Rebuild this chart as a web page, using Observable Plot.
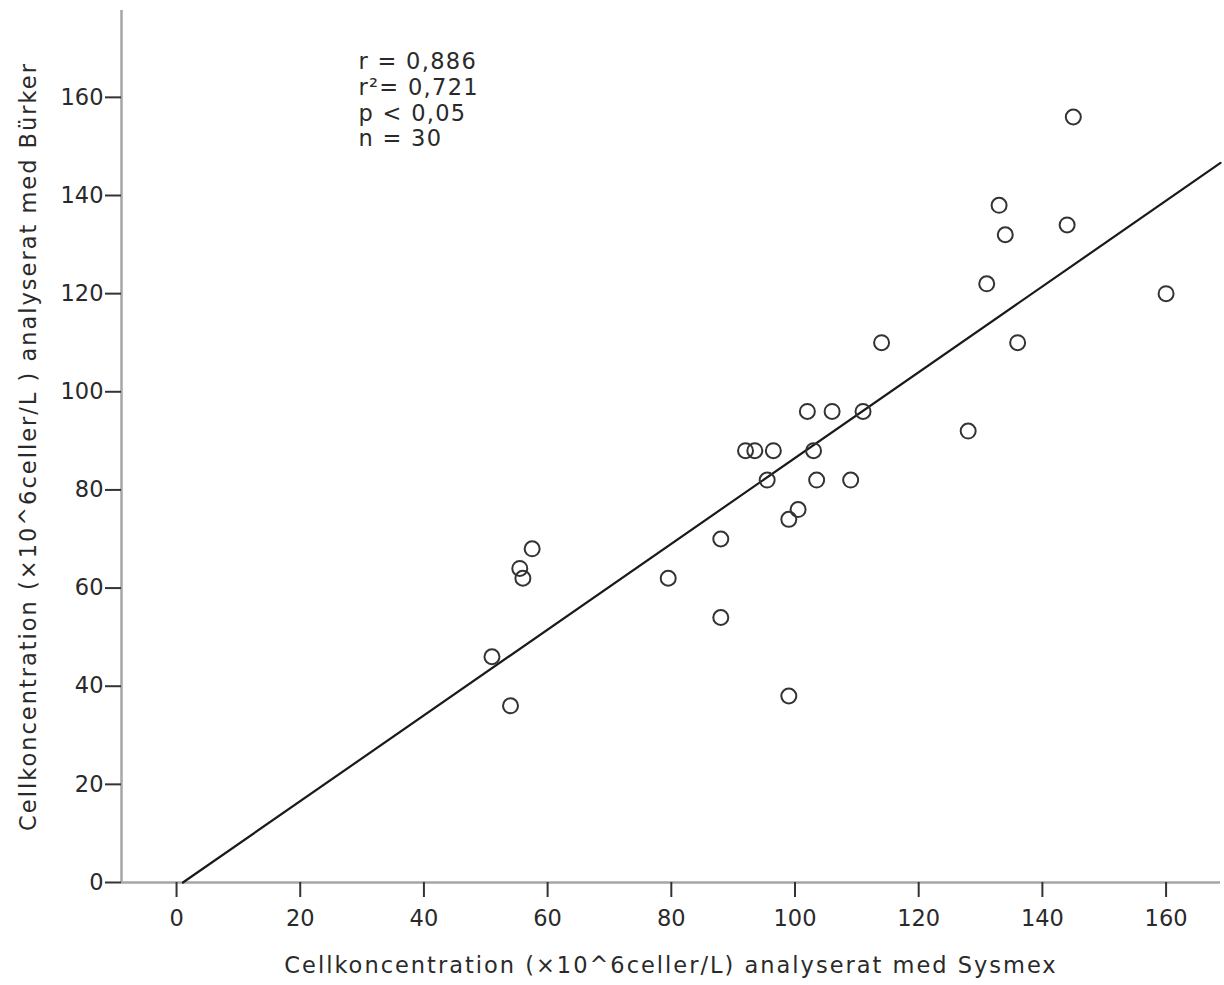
<!DOCTYPE html>
<html>
<head>
<meta charset="utf-8">
<script src="https://cdn.jsdelivr.net/npm/d3@7"></script>
<script src="https://cdn.jsdelivr.net/npm/@observablehq/plot@0.6"></script>
<style>
  html, body { margin: 0; padding: 0; background: #fff; }
  #chart svg { display: block; }
  .spaced text { letter-spacing: 2px; }
  .stats text { letter-spacing: 1.3px; }
</style>
</head>
<body>
<div id="chart"></div>
<script>
// Sysmex (x) vs Bürker (y) cell concentrations, ×10^6 cells/L
const sysmex = [145, 133, 134, 144, 131, 160, 114, 136, 102, 106, 111, 128, 92, 93.5, 96.5, 103, 95.5, 103.5, 109, 100.5, 99, 88, 79.5, 88, 99, 57.5, 55.5, 56, 51, 54];
const burker = [156, 138, 132, 134, 122, 120, 110, 110, 96, 96, 96, 92, 88, 88, 88, 88, 82, 82, 82, 76, 74, 70, 62, 54, 38, 68, 64, 62, 46, 36];

// regression line coefficients (y = intercept + slope * x)
const fitIntercept = -0.9;
const fitSlope = 0.874;

const xTicks = [0, 20, 40, 60, 80, 100, 120, 140, 160];
const yTicks = [0, 20, 40, 60, 80, 100, 120, 140, 160];
const xDomain = [-8.9, 168.8];
const yDomain = [0, 177.7];

const statLines = ["r = 0,886", "r²= 0,721", "p < 0,05", "n = 30"];
const xLabel = "Cellkoncentration (×10^6celler/L) analyserat med Sysmex";
const yLabel = "Cellkoncentration (×10^6celler/L ) analyserat med Bürker";

const points = sysmex.map((x, i) => ({x, y: burker[i]}));
const fitStart = -fitIntercept / fitSlope;
const fitLine = [fitStart, xDomain[1]].map(x => ({x, y: fitIntercept + fitSlope * x}));

const textColor = "#2a2a2a";
const font = "DejaVu Sans, Verdana, sans-serif";

const chart = Plot.plot({
  width: 1224,
  height: 985,
  marginLeft: 121,
  marginTop: 10,
  marginRight: 4,
  marginBottom: 103,
  style: {fontFamily: font, fontSize: "22.5px", color: textColor, background: "#fff"},
  x: {domain: xDomain, axis: null},
  y: {domain: yDomain, axis: null},
  marks: [
    Plot.ruleX([xDomain[0]], {stroke: "#a6a6a6", strokeWidth: 2.5}),
    Plot.ruleY([yDomain[0]], {stroke: "#a6a6a6", strokeWidth: 2.5}),
    Plot.axisX({ticks: xTicks, tickSize: 15, tickPadding: 13, stroke: "#333", strokeWidth: 2, fill: textColor, label: null}),
    Plot.axisY({ticks: yTicks, tickSize: 16, tickPadding: 2, stroke: "#333", strokeWidth: 2, fill: textColor, label: null}),
    Plot.line(fitLine, {x: "x", y: "y", stroke: "#1a1a1a", strokeWidth: 2.2}),
    Plot.dot(points, {x: "x", y: "y", r: 7.5, stroke: "#333", strokeWidth: 2, fill: "none"}),
    Plot.text([statLines.join("\n")], {frameAnchor: "top-left", dx: 237, dy: 40, lineAnchor: "top", textAnchor: "start", lineHeight: 1.15, fill: textColor, className: "stats"}),
    Plot.text([xLabel], {frameAnchor: "bottom", dy: 83, lineAnchor: "middle", textAnchor: "middle", fill: textColor, className: "spaced"}),
    Plot.text([yLabel], {frameAnchor: "left", dx: -93, rotate: -90, lineAnchor: "middle", textAnchor: "middle", fill: textColor, className: "spaced"})
  ]
});
document.getElementById("chart").appendChild(chart);
</script>
</body>
</html>
